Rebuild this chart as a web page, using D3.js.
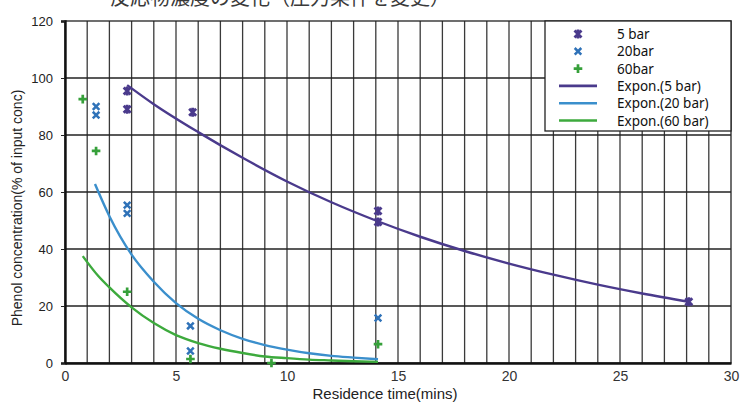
<!DOCTYPE html>
<html><head><meta charset="utf-8">
<script src="https://cdn.jsdelivr.net/npm/d3@7"></script>
<style>body{margin:0;background:#fff}svg{display:block}</style>
</head><body>
<svg id="c" width="740" height="403"></svg>
<script>
// ---- data ----
const title = "反応物濃度の変化（圧力条件を変更）";
const xTicks = [0, 5, 10, 15, 20, 25, 30];
const yTicks = [0, 20, 40, 60, 80, 100, 120];
const seriesNames = ["5 bar", "20bar", "60bar"];
const trendNames = ["Expon.(5 bar)", "Expon.(20 bar)", "Expon.(60 bar)"];
const pts5 = [[2.8, 95.4], [2.8, 89], [5.75, 88], [14.1, 53.3], [14.1, 49.5], [28.1, 21.5]];
const pts20 = [[1.4, 90], [1.4, 87], [2.8, 55.4], [2.8, 52.5], [5.65, 13], [5.65, 4.2], [14.1, 15.8]];
const pts60 = [[0.8, 92.6], [1.4, 74.4], [2.8, 25], [5.65, 1.4], [14.1, 6.6], [9.3, 0]];
const fit5 = [[2.8, 97.5], [4, 90.8], [6, 81], [8, 72], [10, 63.7], [12, 56.4], [14, 50], [16, 44.3], [18, 39.3], [20, 34.9], [22, 31], [24, 27.5], [26, 24.4], [28.1, 21.5]];
const fit20 = [[1.35, 62.8], [2, 51.5], [3, 38], [4, 28.5], [5, 21], [6, 15.5], [7, 11.5], [8, 8.5], [9, 6.3], [10, 4.7], [11, 3.4], [12, 2.5], [13, 1.9], [14.1, 1.3]];
const fit60 = [[0.8, 37.5], [1.5, 30.5], [2, 26.5], [3, 19.5], [4, 14], [5, 9.8], [6, 7], [7, 5], [8, 3.5], [9, 2.3], [10, 1.7], [11, 1.2], [12, 0.9], [13, 0.6], [14.1, 0.4]];

// ---- chart ----
const svg = d3.select("#c");
const x = d3.scaleLinear().domain([0, 30]).range([65, 731]);
const y = d3.scaleLinear().domain([0, 120]).range([363, 21]);
const cPurple = "#4a3a8c", cBlue = "#3b8fcc", cBlueM = "#2f72b8", cGreen = "#3daa3d", cGreenM = "#36a03a";

// title (partially cut at top, as in the reference)
svg.append("text").attr("x", 110).attr("y", 5)
  .attr("font-family", "'Noto Sans CJK JP'").attr("font-size", 20).attr("fill", "#3a3a3a")
  .text(title);

// vertical gridlines every minute
svg.append("g").selectAll("line").data(d3.range(1, 30)).join("line")
  .attr("x1", d => x(d)).attr("x2", d => x(d)).attr("y1", y(120)).attr("y2", y(0))
  .attr("stroke", "#3a3a3a").attr("stroke-width", 1.3);
// horizontal gridlines
svg.append("g").selectAll("line").data(yTicks.filter(d => d > 0 && d < 120)).join("line")
  .attr("x1", x(0)).attr("x2", x(30)).attr("y1", d => y(d)).attr("y2", d => y(d))
  .attr("stroke", "#222").attr("stroke-width", 1.4);
// frame
svg.append("rect").attr("x", x(0)).attr("y", y(120)).attr("width", x(30) - x(0)).attr("height", y(0) - y(120))
  .attr("fill", "none").attr("stroke", "#222").attr("stroke-width", 1.3);

// axes
const ya = svg.append("g").attr("transform", `translate(${x(0)},0)`)
  .call(d3.axisLeft(y).tickValues(yTicks).tickSize(4).tickPadding(8));
ya.select(".domain").attr("stroke", "#111").attr("stroke-width", 2.4);
ya.selectAll("text").attr("font-family", "'Liberation Sans', Arial").attr("font-size", 13).attr("fill", "#222");
ya.selectAll(".tick line").attr("stroke", "#222");
const xa = svg.append("g").attr("transform", `translate(0,${y(0)})`)
  .call(d3.axisBottom(x).tickValues(xTicks).tickSize(0).tickPadding(8));
xa.select(".domain").attr("stroke", "#111").attr("stroke-width", 2.4);
xa.selectAll("text").attr("font-family", "'Liberation Sans Narrow', 'Liberation Sans', Arial").attr("font-size", 14).attr("fill", "#333");

// axis titles
svg.append("text").attr("x", 385).attr("y", 399).attr("text-anchor", "middle")
  .attr("font-family", "'Liberation Sans Narrow', 'Liberation Sans', Arial").attr("font-size", 15).attr("fill", "#222")
  .text("Residence time(mins)");
svg.append("text").attr("transform", "translate(22,208) rotate(-90)").attr("text-anchor", "middle")
  .attr("font-family", "'Liberation Sans', Arial").attr("font-size", 14).attr("fill", "#222")
  .text("Phenol concentration(% of input conc)");

// trend lines
const line = d3.line().x(d => x(d[0])).y(d => y(d[1])).curve(d3.curveMonotoneX);
[[fit5, cPurple], [fit20, cBlue], [fit60, cGreen]].forEach(([d, c]) => {
  svg.append("path").datum(d).attr("d", line).attr("fill", "none").attr("stroke", c).attr("stroke-width", 2.4);
});

// markers
function star(s) { return `M${-s},${-s}L${s},${s}M${-s},${s}L${s},${-s}M0,${-s - 1}L0,${s + 1}`; }
function cross(s) { return `M${-s},${-s}L${s},${s}M${-s},${s}L${s},${-s}`; }
function plus(s) { return `M${-s},0L${s},0M0,${-s}L0,${s}`; }
const markerDefs = [
  { data: pts5, path: star(3.5), color: cPurple, w: 2.8 },
  { data: pts20, path: cross(3.3), color: cBlueM, w: 2.5 },
  { data: pts60, path: plus(4.3), color: cGreenM, w: 2.7 }
];
markerDefs.forEach(m => {
  svg.append("g").selectAll("path").data(m.data).join("path")
    .attr("transform", d => `translate(${x(d[0])},${y(d[1])})`)
    .attr("d", m.path).attr("fill", "none").attr("stroke", m.color).attr("stroke-width", m.w);
});

// legend
const lg = svg.append("g");
lg.append("rect").attr("x", 545).attr("y", 21).attr("width", x(30) - 545).attr("height", 110)
  .attr("fill", "#fff").attr("stroke", "#222").attr("stroke-width", 1.3);
const rowY = i => 34 + i * 17.3;
const items = [
  { name: seriesNames[0], kind: "m", m: markerDefs[0] },
  { name: seriesNames[1], kind: "m", m: markerDefs[1] },
  { name: seriesNames[2], kind: "m", m: markerDefs[2] },
  { name: trendNames[0], kind: "l", c: cPurple },
  { name: trendNames[1], kind: "l", c: cBlue },
  { name: trendNames[2], kind: "l", c: cGreen }
];
items.forEach((it, i) => {
  const yy = rowY(i);
  if (it.kind === "m") {
    lg.append("path").attr("transform", `translate(578,${yy})`).attr("d", it.m.path)
      .attr("fill", "none").attr("stroke", it.m.color).attr("stroke-width", it.m.w);
  } else {
    lg.append("line").attr("x1", 559).attr("x2", 597).attr("y1", yy).attr("y2", yy)
      .attr("stroke", it.c).attr("stroke-width", 2.6);
  }
  lg.append("text").attr("x", 617).attr("y", yy + 5)
    .attr("font-family", "'Noto Sans', sans-serif").attr("font-size", 13.5).attr("fill", "#111")
    .text(it.name);
});
</script>
</body></html>
